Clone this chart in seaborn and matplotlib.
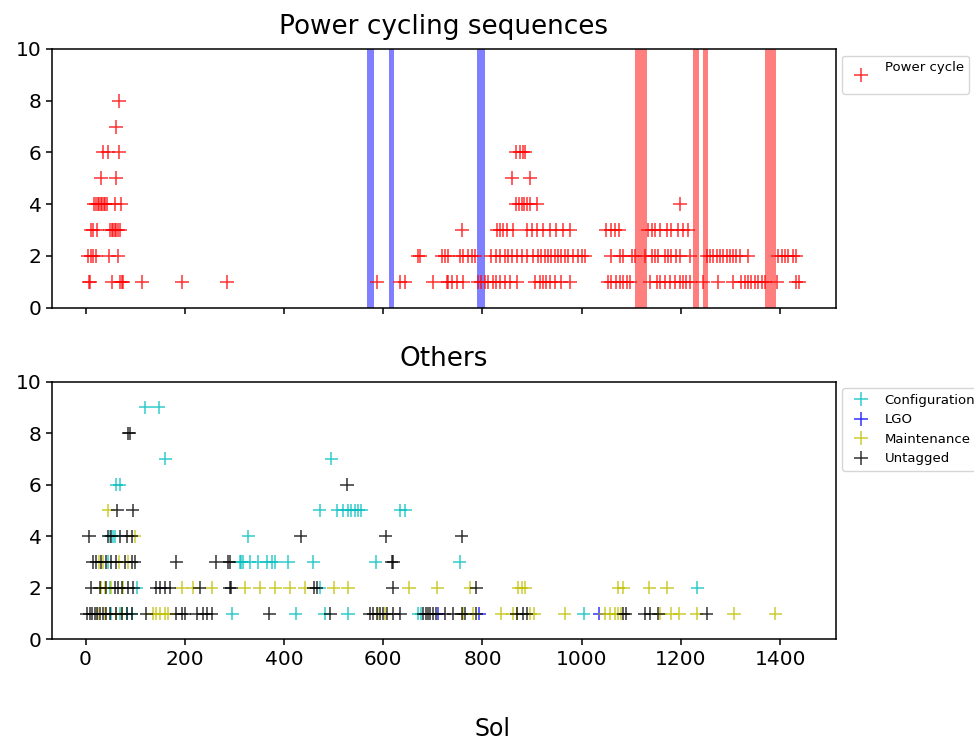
import pandas as pd
import matplotlib
matplotlib.use("Agg")
import matplotlib.pyplot as plt
import seaborn as sns
from matplotlib.lines import Line2D

# Power cycle events: sol values per count level
power_cycle = {
    8: [68],
    7: [62],
    6: [35, 45, 68, 867, 875, 881, 886],
    5: [31, 62, 860, 896],
    4: [17, 21, 25, 28, 31, 34, 37, 40, 44, 59, 71, 867, 873, 879, 884, 890,
        896, 910, 1198],
    3: [10, 15, 23, 50, 53, 56, 59, 62, 65, 69, 758, 830, 835, 842, 849, 862,
        889, 899, 909, 923, 936, 949, 963, 976, 1050, 1060, 1067, 1076, 1134,
        1141, 1148, 1158, 1171, 1181, 1195, 1205, 1215],
    2: [5, 10, 15, 21, 48, 65, 670, 674, 718, 724, 731, 755, 761, 771, 778,
        785, 818, 828, 835, 845, 852, 859, 869, 879, 889, 902, 912, 919, 926,
        933, 939, 946, 953, 959, 966, 973, 983, 993, 1000, 1006, 1060, 1077,
        1084, 1101, 1107, 1127, 1141, 1148, 1154, 1168, 1175, 1181, 1191, 1198,
        1218, 1252, 1258, 1265, 1272, 1279, 1285, 1292, 1299, 1306, 1312, 1319,
        1336, 1396, 1403, 1410, 1416, 1426, 1433],
    1: [6, 9, 54, 70, 73, 76, 114, 194, 286, 587, 634, 644, 701, 728, 731, 738,
        748, 761, 791, 798, 805, 812, 822, 828, 835, 845, 855, 869, 906, 916,
        923, 929, 936, 946, 959, 976, 1054, 1060, 1070, 1077, 1084, 1091, 1097,
        1138, 1151, 1158, 1168, 1178, 1188, 1198, 1205, 1211, 1218, 1245, 1275,
        1306, 1322, 1329, 1336, 1342, 1349, 1356, 1363, 1369, 1393, 1433, 1439],
}

# highlighted sequences (start sol, end sol)
blue_spans = [(567.6, 581.7), (612, 621.4), (789.3, 804.3)]
red_spans = [(1107.2, 1130.8), (1224.8, 1236.3), (1243.7, 1253.8), (1369.9, 1391.4)]

configuration = {
    9: [120, 148],
    7: [161, 495],
    6: [62, 69],
    5: [472, 507, 519, 529, 536, 543, 550, 556, 634, 644],
    4: [49, 56, 59, 328],
    3: [46, 311, 314, 318, 331, 348, 365, 375, 382, 409, 459, 585, 754],
    2: [49, 103, 472, 1233],
    1: [52, 69, 83, 93, 296, 424, 482, 529, 671, 677, 1004],
}
lgo = {
    1: [711, 793, 1035],
}
maintenance = {
    5: [46],
    4: [99],
    3: [28, 36, 68, 85],
    2: [32, 39, 52, 76, 194, 217, 254, 321, 351, 382, 412, 442, 500, 529, 652,
        709, 775, 872, 879, 886, 1074, 1084, 1136, 1172],
    1: [26, 39, 62, 73, 136, 143, 150, 160, 167, 590, 603, 761, 781, 838, 861,
        869, 896, 904, 966, 1047, 1057, 1067, 1074, 1080, 1158, 1181, 1197,
        1232, 1307, 1390],
}
untagged = {
    8: [86, 89],
    6: [527],
    5: [64, 95],
    4: [7, 46, 52, 69, 84, 93, 434, 605, 758],
    3: [15, 22, 32, 41, 52, 62, 79, 93, 99, 183, 262, 288, 291, 617, 620],
    2: [12, 29, 42, 59, 66, 73, 86, 96, 143, 151, 160, 170, 230, 291, 294, 460,
        466, 619, 788],
    1: [2, 9, 14, 19, 24, 29, 36, 42, 49, 62, 73, 83, 93, 122, 183, 194, 200,
        224, 237, 244, 254, 370, 493, 573, 580, 587, 593, 600, 607, 620, 634,
        681, 686, 691, 694, 701, 707, 724, 741, 758, 765, 788, 869, 881, 889,
        1084, 1089, 1127, 1138, 1154, 1252],
}

tag_names = ["Configuration", "LGO", "Maintenance", "Untagged"]
tag_colors = {"Configuration": "c", "LGO": "b", "Maintenance": "y", "Untagged": "k"}


def to_frame(levels, tag):
    rows = [(s, n, tag) for n, sols in levels.items() for s in sols]
    return pd.DataFrame(rows, columns=["sol", "count", "tag"])


pc_df = to_frame(power_cycle, "Power cycle")
others_df = pd.concat([to_frame(configuration, "Configuration"),
                       to_frame(lgo, "LGO"),
                       to_frame(maintenance, "Maintenance"),
                       to_frame(untagged, "Untagged")], ignore_index=True)

MS = 9.4
fig = plt.figure(figsize=(9.74, 7.43), dpi=100)
ax1 = fig.add_axes([0.0537, 0.5859, 0.8043, 0.3482])
ax2 = fig.add_axes([0.0537, 0.1396, 0.8043, 0.3467], sharex=ax1)

for a, b in blue_spans:
    ax1.axvspan(a, b, color="blue", alpha=0.5, lw=0)
for a, b in red_spans:
    ax1.axvspan(a, b, color="red", alpha=0.5, lw=0)

sns.scatterplot(data=pc_df, x="sol", y="count", ax=ax1, color="red",
                marker="+", s=MS ** 2, linewidth=1.1, alpha=0.8, legend=False)
sns.scatterplot(data=others_df, x="sol", y="count", hue="tag", hue_order=tag_names,
                palette=tag_colors, ax=ax2, marker="+", s=MS ** 2,
                linewidth=1.1, alpha=0.8, legend=False)

ax1.set_title("Power cycling sequences", fontsize=18.9, pad=11)
ax2.set_title("Others", fontsize=18.9, pad=11)

for ax in (ax1, ax2):
    ax.set_xlim(-67, 1512)
    ax.set_ylim(0, 10)
    ax.set_yticks(range(0, 11, 2))
    ax.set_xticks(range(0, 1401, 200))
    ax.set_xlabel("")
    ax.set_ylabel("")
    ax.tick_params(labelsize=14.5, length=4.3, width=1.1)
    for sp in ax.spines.values():
        sp.set_linewidth(1.1)
ax1.tick_params(labelbottom=False)

pc_handle = [Line2D([], [], ls="none", marker="+", color="red", alpha=0.8,
                    markersize=MS, markeredgewidth=1.1)]
ax1.legend(pc_handle, ["Power cycle\n"], loc="upper left",
           bbox_to_anchor=(1.0, 1.0), fontsize=9.5)

tag_handles = [Line2D([], [], ls="none", marker="+", color=tag_colors[t], alpha=0.8,
                      markersize=MS, markeredgewidth=1.1) for t in tag_names]
ax2.legend(tag_handles, tag_names, loc="upper left",
           bbox_to_anchor=(1.0, 1.0), fontsize=9.5)

fig.text(492.5 / 974, 7 / 743, "Sol", ha="center", va="baseline", fontsize=17)

fig.savefig("out.png", dpi=100)
